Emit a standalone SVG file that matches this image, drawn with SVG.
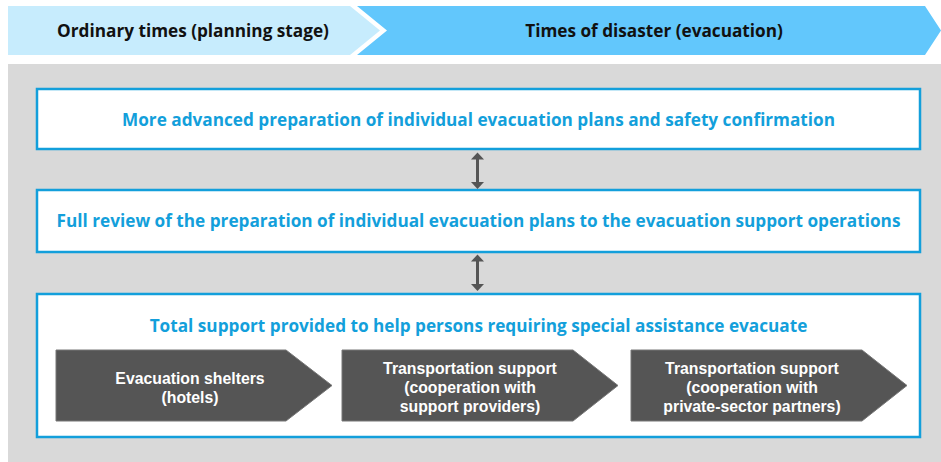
<svg xmlns="http://www.w3.org/2000/svg" width="941" height="462" viewBox="0 0 941 462">
<style>
.hdr{font-family:"Open Sans","Liberation Sans",sans-serif;font-weight:bold;font-size:17.2px;fill:#111;text-anchor:middle}
.box{fill:#fff;stroke:#139fdb;stroke-width:2.5}
.btxt{font-family:"Open Sans","Liberation Sans",sans-serif;font-weight:bold;font-size:17.2px;fill:#139fdb;text-anchor:middle}
.chev{fill:#555;stroke:#777;stroke-width:1}
.ctxt{font-family:"Liberation Sans",Arial,sans-serif;font-weight:bold;font-size:15.8px;fill:#fff;text-anchor:middle}
.conn{stroke:#555;stroke-width:3}
.head{fill:#555}
</style>
<rect width="941" height="462" fill="#fff"/>
<g id="header-ordinary">
<polygon points="8,6 350,6 380,30.5 350,55 8,55" fill="#c7ecfd"/>
<text class="hdr" x="193" y="36.5">Ordinary times (planning stage)</text>
</g>
<g id="header-disaster">
<polygon points="357,6 925,6 941,30.5 925,55 357,55 387,30.5" fill="#62c7fc"/>
<text class="hdr" x="654" y="36.5">Times of disaster (evacuation)</text>
</g>
<rect x="8" y="64" width="933" height="398" fill="#d9d9d9"/>
<g id="node1">
<rect class="box" x="37" y="89" width="883" height="60"/>
<text class="btxt" x="478.5" y="125.5">More advanced preparation of individual evacuation plans and safety confirmation</text>
</g>
<g id="node2">
<rect class="box" x="37" y="190" width="883" height="62"/>
<text class="btxt" x="478.5" y="227">Full review of the preparation of individual evacuation plans to the evacuation support operations</text>
</g>
<g id="node3">
<rect class="box" x="37" y="294" width="883" height="143"/>
<text class="btxt" x="478.5" y="332">Total support provided to help persons requiring special assistance evacuate</text>
</g>
<g id="chev1">
<polygon class="chev" points="56,350 286,350 332,385.5 286,421 56,421"/>
<text class="ctxt" x="190" y="384">Evacuation shelters</text>
<text class="ctxt" x="190" y="403">(hotels)</text>
</g>
<g id="chev2">
<polygon class="chev" points="342,350 573,350 618,385.5 573,421 342,421"/>
<text class="ctxt" x="470" y="374">Transportation support</text>
<text class="ctxt" x="470" y="393">(cooperation with</text>
<text class="ctxt" x="470" y="412">support providers)</text>
</g>
<g id="chev3">
<polygon class="chev" points="631,350 862,350 907,385.5 862,421 631,421"/>
<text class="ctxt" x="752" y="374">Transportation support</text>
<text class="ctxt" x="752" y="393">(cooperation with</text>
<text class="ctxt" x="752" y="412">private-sector partners)</text>
</g>
<g id="connectors">
<g id="conn1">
<line class="conn" x1="477.5" y1="158" x2="477.5" y2="184"/>
<polygon class="head" points="477.5,152.5 484,159.5 471,159.5"/>
<polygon class="head" points="477.5,189 484,182 471,182"/>
</g>
<g id="conn2">
<line class="conn" x1="477.5" y1="260" x2="477.5" y2="286"/>
<polygon class="head" points="477.5,254.5 484,261.5 471,261.5"/>
<polygon class="head" points="477.5,291 484,284 471,284"/>
</g>
</g>
</svg>
